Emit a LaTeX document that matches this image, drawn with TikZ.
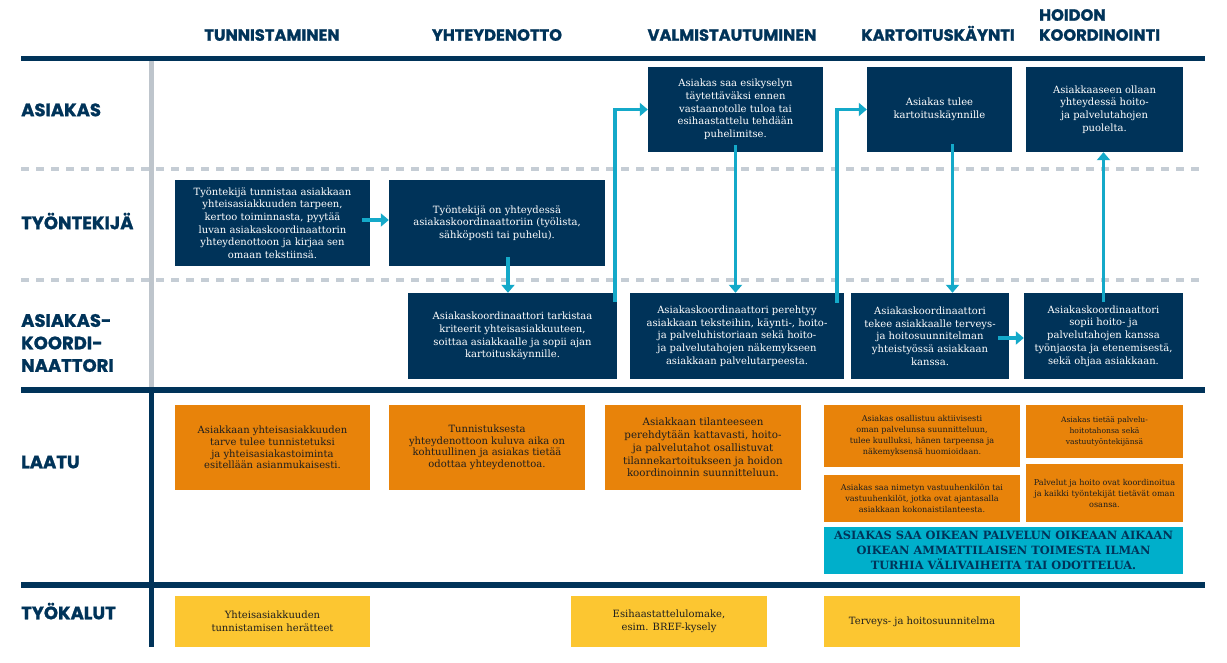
\documentclass[tikz,border=0pt]{standalone}
\usepackage{fontspec}
\setmainfont{DejaVu Serif}
\newfontfamily\hfont{Poppins}[BoldFeatures={FakeBold=1.2}]
\usetikzlibrary{calc,arrows.meta}
\definecolor{navy}{HTML}{003359}
\definecolor{arrowc}{HTML}{14A9C9}
\definecolor{bannerc}{HTML}{00AFCB}
\definecolor{orangec}{HTML}{E8830A}
\definecolor{yellowc}{HTML}{FCC631}
\definecolor{greyc}{HTML}{C5CDD5}
\definecolor{darktext}{HTML}{1E1E1E}
\tikzset{
  hdr/.style={font=\hfont\bfseries\fontsize{16.3}{17}\selectfont, text=navy, inner sep=0pt, text height=11.5pt, text depth=0pt},
  rowlab/.style={font=\hfont\bfseries\fontsize{18}{22.5}\selectfont, text=navy, inner sep=0pt, anchor=west, align=left},
  navybox/.style={fill=navy, text=white, inner sep=0pt, align=center, font=\fontsize{10}{12.7}\selectfont},
  orangebox/.style={fill=orangec, text=darktext, inner sep=0pt, align=center, font=\fontsize{10}{11.6}\selectfont},
  smallorange/.style={orangebox, font=\fontsize{8.1}{11}\selectfont},
  yellowbox/.style={fill=yellowc, text=darktext, inner sep=0pt, align=center, font=\fontsize{10}{12.5}\selectfont},
  banner/.style={fill=bannerc, text=navy, inner sep=0pt, align=center, font=\bfseries\fontsize{11.4}{15}\selectfont},
  flow/.style={draw=arrowc, line width=3.5pt, -{Triangle[width=13pt,length=8pt]}},
  thickrule/.style={draw=navy, line width=5.5pt},
  dashrule/.style={draw=greyc, line width=4pt, dash pattern=on 8pt off 7pt},
}
\begin{document}
\begin{tikzpicture}[x=1pt,y=-1pt]
\fill[white] (0,0) rectangle (1227,663);
\useasboundingbox (0,0) rectangle (1227,663);

% rules
\draw[dashrule] (21,169) -- (1205,169);
\draw[dashrule] (21,280) -- (1205,280);
\draw[draw=greyc!90!gray, line width=5pt] (151.5,61) -- (151.5,390);
\draw[draw=navy, line width=5pt] (151.5,390) -- (151.5,647);
\draw[thickrule] (21,58.5) -- (1205,58.5);
\draw[thickrule] (21,390) -- (1205,390);
\draw[thickrule] (21,585) -- (1205,585);

% column headers
\node[hdr] (h1) at (272,35) {TUNNISTAMINEN};
\node[hdr] (h2) at (497,35) {YHTEYDENOTTO};
\node[hdr] (h3) at (732,35) {VALMISTAUTUMINEN};
\node[hdr] (h4) at (938,35) {KARTOITUSKÄYNTI};
\node[hdr, anchor=west] (h5a) at (1039,15) {HOIDON};
\node[hdr, anchor=west] (h5b) at (1039,35) {KOORDINOINTI};

% row labels
\node[rowlab, text height=12.5pt, text depth=0pt] (r1) at (21,110) {ASIAKAS};
\node[rowlab, text height=12.5pt, text depth=0pt] (r2) at (21,223) {TYÖNTEKIJÄ};
\node[rowlab] (r3) at (21,343) {ASIAKAS-\\KOORDI-\\NAATTORI};
\node[rowlab, text height=12.5pt, text depth=0pt] (r4) at (21,462) {LAATU};
\node[rowlab, text height=12.5pt, text depth=0pt] (r5) at (21,613) {TYÖKALUT};

% asiakas row
\node[navybox, minimum width=175pt, minimum height=85pt] (A1) at (735.5,109.5)
  {Asiakas saa esikyselyn\\täytettäväksi ennen\\vastaanotolle tuloa tai\\esihaastattelu tehdään\\puhelimitse.};
\node[navybox, minimum width=145pt, minimum height=85pt] (A2) at (939.5,109.5)
  {Asiakas tulee\\kartoituskäynnille};
\node[navybox, minimum width=157pt, minimum height=85pt] (A3) at (1104.5,109.5)
  {Asiakkaaseen ollaan\\yhteydessä hoito-\\ja palvelutahojen\\puolelta.};

% tyontekija row
\node[navybox, minimum width=195pt, minimum height=86pt] (T1) at (272.5,223)
  {Työntekijä tunnistaa asiakkaan\\yhteisasiakkuuden tarpeen,\\kertoo toiminnasta, pyytää\\luvan asiakaskoordinaattorin\\yhteydenottoon ja kirjaa sen\\omaan tekstiinsä.};
\node[navybox, minimum width=216pt, minimum height=86pt] (T2) at (497,223)
  {Työntekijä on yhteydessä\\asiakaskoordinaattoriin (työlista,\\sähköposti tai puhelu).};

% koordinaattori row
\node[navybox, minimum width=209pt, minimum height=86pt] (K1) at (512.5,336)
  {Asiakaskoordinaattori tarkistaa\\kriteerit yhteisasiakkuuteen,\\soittaa asiakkaalle ja sopii ajan\\kartoituskäynnille.};
\node[navybox, minimum width=214pt, minimum height=86pt] (K2) at (737,336)
  {Asiakaskoordinaattori perehtyy\\asiakkaan teksteihin, käynti-, hoito-\\ja palveluhistoriaan sekä hoito-\\ja palvelutahojen näkemykseen\\asiakkaan palvelutarpeesta.};
\node[navybox, minimum width=158pt, minimum height=86pt] (K3) at (930,336)
  {Asiakaskoordinaattori\\tekee asiakkaalle terveys-\\ja hoitosuunnitelman\\yhteistyössä asiakkaan\\kanssa.};
\node[navybox, minimum width=159pt, minimum height=86pt] (K4) at (1103.5,336)
  {Asiakaskoordinaattori\\sopii hoito- ja\\palvelutahojen kanssa\\työnjaosta ja etenemisestä,\\sekä ohjaa asiakkaan.};

% laatu row
\node[orangebox, minimum width=195pt, minimum height=85pt] (L1) at (272.5,447.5)
  {Asiakkaan yhteisasiakkuuden\\tarve tulee tunnistetuksi\\ja yhteisasiakastoiminta\\esitellään asianmukaisesti.};
\node[orangebox, minimum width=196pt, minimum height=85pt] (L2) at (487,447.5)
  {Tunnistuksesta\\yhteydenottoon kuluva aika on\\kohtuullinen ja asiakas tietää\\odottaa yhteydenottoa.};
\node[orangebox, minimum width=196pt, minimum height=85pt, font=\fontsize{10.3}{12.8}\selectfont] (L3) at (703,447.5)
  {Asiakkaan tilanteeseen\\perehdytään kattavasti, hoito-\\ja palvelutahot osallistuvat\\tilannekartoitukseen ja hoidon\\koordinoinnin suunnitteluun.};
\node[smallorange, minimum width=196pt, minimum height=62pt] (L4) at (922,436)
  {Asiakas osallistuu aktiivisesti\\oman palvelunsa suunnitteluun,\\tulee kuulluksi, hänen tarpeensa ja\\näkemyksensä huomioidaan.};
\node[smallorange, minimum width=157pt, minimum height=53pt, font=\fontsize{7.6}{11}\selectfont] (L5) at (1104.5,431.5)
  {Asiakas tietää palvelu-\\hoitotahonsa sekä\\vastuutyöntekijänsä};
\node[smallorange, minimum width=196pt, minimum height=47pt] (L6) at (922,498.5)
  {Asiakas saa nimetyn vastuuhenkilön tai\\vastuuhenkilöt, jotka ovat ajantasalla\\asiakkaan kokonaistilanteesta.};
\node[smallorange, minimum width=157pt, minimum height=58pt] (L7) at (1104.5,493)
  {Palvelut ja hoito ovat koordinoitua\\ja kaikki työntekijät tietävät oman\\osansa.};
\node[banner, minimum width=359pt, minimum height=47pt] (B) at (1003.5,550.5)
  {ASIAKAS SAA OIKEAN PALVELUN OIKEAAN AIKAAN\\OIKEAN AMMATTILAISEN TOIMESTA ILMAN\\TURHIA VÄLIVAIHEITA TAI ODOTTELUA.};

% tyokalut row
\node[yellowbox, minimum width=195pt, minimum height=51pt] (Y1) at (272.5,621.5)
  {Yhteisasiakkuuden\\tunnistamisen herätteet};
\node[yellowbox, minimum width=196pt, minimum height=51pt] (Y2) at (669,621.5)
  {Esihaastattelulomake,\\esim. BREF-kysely};
\node[yellowbox, minimum width=196pt, minimum height=51pt] (Y3) at (922,621.5)
  {Terveys- ja hoitosuunnitelma};

% connectors
\coordinate (t1e) at ($(T1.east)+(-8,-3)$);
\draw[flow] (t1e) -- (t1e -| T2.west);
\coordinate (t2s) at ($(T2.south)+(11,-9)$);
\draw[flow] (t2s) -- (t2s |- K1.north);
\coordinate (k1n) at ($(K1.north east)+(-2,9)$);
\draw[flow] (k1n) |- (A1.west);
\coordinate (a1s) at ($(A1.south)+(0,-7)$);
\draw[flow] (a1s) -- (a1s |- K2.north);
\coordinate (k2n) at ($(K2.north east)+(-7,10)$);
\draw[flow] (k2n) |- (A2.west);
\coordinate (a2s) at ($(A2.south)+(13,-8)$);
\draw[flow] (a2s) -- (a2s |- K3.north);
\coordinate (k3e) at ($(K3.east)+(-11,2)$);
\draw[flow] (k3e) -- (k3e -| K4.west);
\coordinate (k4n) at ($(K4.north)+(0,9)$);
\draw[flow] (k4n) -- (k4n |- A3.south);
\end{tikzpicture}
\end{document}
